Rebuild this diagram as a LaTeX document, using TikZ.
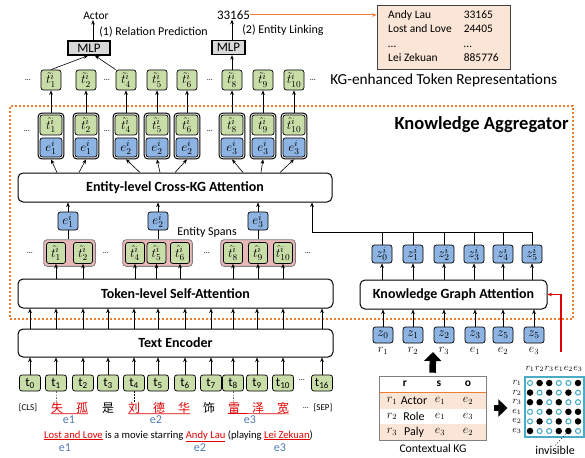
\documentclass[tikz,border=0pt]{standalone}
\usepackage{fix-cm}
\usepackage{fontspec}
\setmainfont{Carlito}
\newfontfamily\cjk{Noto Sans CJK SC}
\usetikzlibrary{arrows.meta,fit}
\pgfdeclarelayer{bg}
\pgfsetlayers{bg,main}
\definecolor{tokgreen}{HTML}{C9DDA8}
\definecolor{entblue}{HTML}{8DB4E2}
\definecolor{spanpink}{HTML}{E8B7B7}
\definecolor{peach}{HTML}{FBE5D6}
\definecolor{kgorange}{HTML}{ED7D31}
\definecolor{kgcyan}{HTML}{4BACC6}
\definecolor{kgred}{HTML}{E00000}
\definecolor{elblue}{HTML}{4F79B0}
\definecolor{mlpgray}{HTML}{D9D9D9}
\newcommand{\myfs}[1]{\fontsize{#1}{#1}\selectfont}
\tikzset{
    tok/.style={draw, rounded corners=2.5pt, line width=.7pt, fill=tokgreen, minimum width=20pt, minimum height=20pt, inner sep=0pt, font=\myfs{13}},
    ent/.style={tok, fill=entblue},
    inp/.style={tok, minimum width=21pt, minimum height=16pt, font=\myfs{13}},
    pairbox/.style={draw, rounded corners=3.5pt, line width=1pt, inner sep=1.5pt},
    spanbox/.style={draw=gray, fill=spanpink, rounded corners=3.5pt, line width=.8pt, inner sep=2.5pt},
    stage/.style={draw, rounded corners=5pt, line width=1pt, minimum height=29pt, inner sep=0pt, font=\bfseries\myfs{14}},
    mlp/.style={draw, fill=mlpgray, line width=1.3pt, minimum height=14pt, inner sep=0pt, font=\myfs{13}},
    kbbox/.style={draw=darkgray, fill=peach, line width=.8pt, minimum width=133pt, minimum height=64pt, inner sep=0pt, font=\fontsize{11.5}{14.5}\selectfont},
    aggbox/.style={draw=kgorange, line width=2pt, dash pattern=on 2pt off 2pt},
    aggtitle/.style={inner sep=0pt, font=\bfseries\myfs{18.5}},
    txt/.style={inner sep=0pt, font=\myfs{12}},
    dotsl/.style={inner sep=0pt, font=\myfs{8}},
    chr/.style={inner sep=0pt, font=\cjk\myfs{12}},
    elbl/.style={inner sep=0pt, text=elblue, font=\myfs{12}},
    mlbl/.style={inner sep=0pt, font=\myfs{9.5}},
    mdot0/.style={circle, draw=kgcyan, line width=1.1pt, minimum size=5pt, inner sep=0pt},
    mdot1/.style={circle, fill=black, minimum size=6.5pt, inner sep=0pt},
    rowfill/.style={fill=peach, minimum width=107pt, minimum height=16pt, inner sep=0pt},
    bigarr/.style={line width=6.5pt, -{Triangle[length=9pt,width=17pt]}}
}

\begin{document}
\begin{tikzpicture}[x=1pt, y=-1pt, line width=.6pt, >={Stealth[length=4.5pt,width=3.6pt]}]
        \useasboundingbox (0,0) rectangle (585,457);
        \node[aggbox, minimum width=563pt, minimum height=213pt] (agg) at (291.5,212.5) {};
        \node[aggtitle, anchor=north east] (aggt) at ([xshift=-5pt,yshift=-11pt]agg.north east) {Knowledge Aggregator};

        \node[mlp, minimum width=42pt] (mlp1) at (89,48) {MLP};
        \node[mlp, minimum width=33pt] (mlp2) at (228.5,47.5) {MLP};
        \node[txt, font=\myfs{11.5}] (act) at (96,16) {Actor};
        \node[txt, font=\myfs{13}] (num) at (233.5,15) {33165};
        \node[txt, anchor=west] (rp) at (99,32) {(1) Relation Prediction};
        \node[txt, anchor=west] (el) at (242,30) {(2) Entity Linking};
        \node[kbbox] (kb) at (443.5,37) {\begin{tabular}{@{}l@{\hspace{12pt}}l@{}}Andy Lau & 33165\\ Lost and Love & 24405\\ \dots & \dots\\ Lei Zekuan & 885776\end{tabular}};
        \node[txt, anchor=west, font=\myfs{15.3}] (kgr) at (330,80) {KG-enhanced Token Representations};

        \foreach \k/\x in {1/51,2/86,4/126,5/157,6/187,8/232,9/263,10/294}
                \node[tok] (tt\k) at (\x,80) {$\tilde{t}_{\k}^{i}$};
        \foreach \k/\x/\e in {1/51/1,2/86/1,4/126/2,5/157/2,6/187/2,8/232/3,9/263/3,10/294/3} {
                \node[tok, minimum width=22pt] (ht\k) at (\x,125) {$\hat{t}_{\k}^{i}$};
                \node[ent, minimum width=22pt, minimum height=19pt] (pe\k) at (\x,147.5) {$e_{\e}^{i}$};
                \node[pairbox, fit=(ht\k)(pe\k)] (pb\k) {};
                \draw[->] (pb\k) -- (tt\k);
        }
        \foreach \x/\y [count=\n] in {28/80,107/80,210/80,313/80,27/131,107/131,210/131,30/253,106/253,207/253,308/253,302/380,306/408}
                \node[dotsl] (dd\n) at (\x,\y) {\dots};

        \draw[->] (tt1.north) -- ([xshift=-1pt]mlp1.south);
        \draw[->] (tt4.north west) -- ([xshift=6pt]mlp1.south);
        \draw[->] ([xshift=4pt]mlp1.north) -- ([xshift=4pt]mlp1.north |- act.south);
        \draw[->] (tt8) -- (tt8 |- mlp2.south);
        \draw[->] (tt8 |- mlp2.north) -- (tt8 |- num.south);
        \draw[kgorange, line width=1pt, ->] (num.east) -- (num.east -| kb.west);

        \node[stage, minimum width=314pt] (ckg) at (175,187.5) {Entity-level Cross-KG Attention};
        \foreach \k/\s in {1/6,2/-7,4/14,5/3,6/-12,8/11,9/-2,10/-14}
                \draw[->] ([xshift=\s pt]pb\k.south |- ckg.north) -- (pb\k.south);
        \foreach \k/\x in {1/68,2/158,3/258} {
                \node[ent, minimum height=18pt] (ee\k) at (\x,221) {$e_{\k}^{i}$};
                \draw[->] (ee\k) -- (ee\k |- ckg.south);
        }
        \node[txt] (es) at (207,232) {Entity Spans};

        \foreach \k/\x in {1/56,2/83,4/135,5/156.5,6/180,8/233,9/258,10/283}
                \node[tok, minimum width=19pt, minimum height=21pt] (hs\k) at (\x,253) {$\hat{t}_{\k}^{i}$};
        \begin{pgfonlayer}{bg}
                \node[spanbox, fit=(hs1)(hs2)] (sg1) {};
                \node[spanbox, fit=(hs4)(hs6)] (sg2) {};
                \node[spanbox, fit=(hs8)(hs10)] (sg3) {};
        \end{pgfonlayer}
        \draw (ee1) -- (ee1 |- sg1.north);
        \draw (ee2) -- (ee2 |- sg2.north);
        \draw (ee3) -- (ee3 |- sg3.north);

        \node[stage, minimum width=315pt] (tsa) at (175.5,293.5) {Token-level Self-Attention};
        \foreach \k in {1,2,4,5,6,8,9,10}
                \draw[->] (hs\k |- tsa.north) -- (hs\k);
        \node[stage, minimum width=315pt, minimum height=28pt] (te) at (175.5,343) {Text Encoder};
        \foreach \k/\x in {0/30,1/56,2/83,3/108,4/134,5/158,6/185,7/211,8/233,9/257,10/283,16/322} {
                \node[inp] (in\k) at (\x,383) {t\textsubscript{\k}};
                \draw[->] (in\k) -- (in\k |- te.south);
                \draw[->] (in\k |- te.north) -- (in\k |- tsa.south);
        }

        \node[txt, font=\myfs{9}] (cls) at (28,408) {[CLS]};
        \node[txt, font=\myfs{9}] (sep) at (323,408) {[SEP]};
        \foreach \k/\x/\c/\col in {1/57/失/kgred,2/82/孤/kgred,3/108/是/black,4/134/刘/kgred,5/159/德/kgred,6/184/华/kgred,7/209/饰/black,8/234/雷/kgred,9/258/泽/kgred,10/283/宽/kgred}
                \node[chr, text=\col] (ch\k) at (\x,408) {\c};
        \draw[kgred, line width=.7pt] (ch1.south west) -- (ch2.south east);
        \draw[kgred, line width=.7pt] (ch4.south west) -- (ch6.south east);
        \draw[kgred, line width=.7pt] (ch8.south west) -- (ch10.south east);
        \draw[dash pattern=on 1.5pt off 1.5pt] (in1) -- (ch1);
        \draw[dash pattern=on 1.5pt off 1.5pt] (in4) -- (ch4);
        \draw[dash pattern=on 1.5pt off 1.5pt] (in8) -- (ch8);
        \node[txt, anchor=west, font=\myfs{10.6}] (sent) at (44,436) {\textcolor{kgred}{\underline{Lost and Love}} is a movie starring \textcolor{kgred}{\underline{Andy Lau}} (playing \textcolor{kgred}{\underline{Lei Zekuan}})};
        \foreach \k/\x/\y/\e in {1/69/420/1,2/156/420/2,3/250/420/3,4/65/448/1,5/200/448/2,6/280/448/3}
                \node[elbl] (le\k) at (\x,\y) {e\e};

        \node[stage, minimum width=187pt] (kga) at (453.5,294.5) {Knowledge Graph Attention};
        \foreach \k/\x/\z/\l in {0/383/0/r_1,1/413/1/r_2,2/444/2/r_3,3/475/3/e_1,4/503/5/e_2,5/534/5/e_3} {
                \node[ent, minimum height=16pt] (bz\k) at (\x,335) {$z_{\z}$};
                \node[txt, font=\myfs{12}] (bl\k) at (\x,351) {$\l$};
                \draw[->] (bz\k) -- (bz\k |- kga.south);
        }
        \foreach \k/\x in {0/382,1/413,2/444,3/474,4/503,5/532} {
                \node[ent, minimum height=18pt] (kz\k) at (\x,254) {$z_{\k}^{i}$};
                \draw[->] (kz\k |- kga.north) -- (kz\k);
        }
        \coordinate (bus) at (312,232);
        \foreach \k in {0,...,4}
                \draw (kz\k) -- (kz\k |- bus);
        \draw[->] (kz5) |- (bus) -- (bus |- ckg.south);

        \node[rowfill] (row1) at (432.5,401) {};
        \node[rowfill] (row3) at (432.5,432) {};
        \node[draw=gray, line width=.6pt, minimum width=107pt, minimum height=64pt, inner sep=0pt] (kgtab) at (432.5,408) {};
        \draw[kgorange, line width=1pt] (row1.north west) -- (row1.north east);
        \foreach \x/\h [count=\n] in {405/r,439/s,468/o}
                \node[txt, font=\bfseries\myfs{11.5}] (th\n) at (\x,384) {\h};
        \foreach \y/\r/\w/\s/\o [count=\n] in {401/1/Actor/1/2,416.5/2/Role/1/3,432/3/Paly/3/2} {
                \node[txt] (tr\n) at (392,\y) {$r_{\r}$};
                \node[txt] (tw\n) at (414,\y) {\w};
                \node[txt] (ts\n) at (440,\y) {$e_{\s}$};
                \node[txt] (to\n) at (468,\y) {$e_{\o}$};
        }
        \node[txt, font=\myfs{11.7}] (ckgl) at (433,448) {Contextual KG};
        \coordinate (upend) at (433,352);
        \draw[bigarr, shorten <=3pt] (kgtab.north) -- (upend);

        \node[draw=kgcyan, line width=1.2pt, minimum width=59pt, minimum height=60pt, inner sep=0pt] (mbox) at (554.5,407) {};
        \draw[bigarr, shorten <=8pt, shorten >=17pt] (kgtab.east) -- (kgtab.east -| mbox.west);
        \foreach \l [count=\j] in {r_1,r_2,r_3,e_1,e_2,e_3} {
                \node[mlbl] (mc\j) at ({520.4+9.6*\j},369) {$\l$};
                \node[mlbl] (mr\j) at (517,{373.4+9.6*\j}) {$\l$};
        }
        \foreach \row [count=\i] in {{0,1,1,0,0,1},{1,0,1,0,1,0},{1,1,0,1,0,0},{0,0,1,0,1,1},{0,1,0,1,0,1},{1,0,0,1,1,0}}
                \foreach \v [count=\j] in \row
                        \node[mdot\v] (m\i\j) at ({520.4+9.6*\j},{373.4+9.6*\i}) {};
        \node[txt] (inv) at (555,450) {invisible};
        \draw[dash pattern=on 1.5pt off 1.5pt] (m65) -- (inv.north);
        \coordinate (mtop) at (561,352);
        \draw[kgred, line width=1.2pt, ->] (mtop) |- (kga.east);
\end{tikzpicture}
\end{document}
